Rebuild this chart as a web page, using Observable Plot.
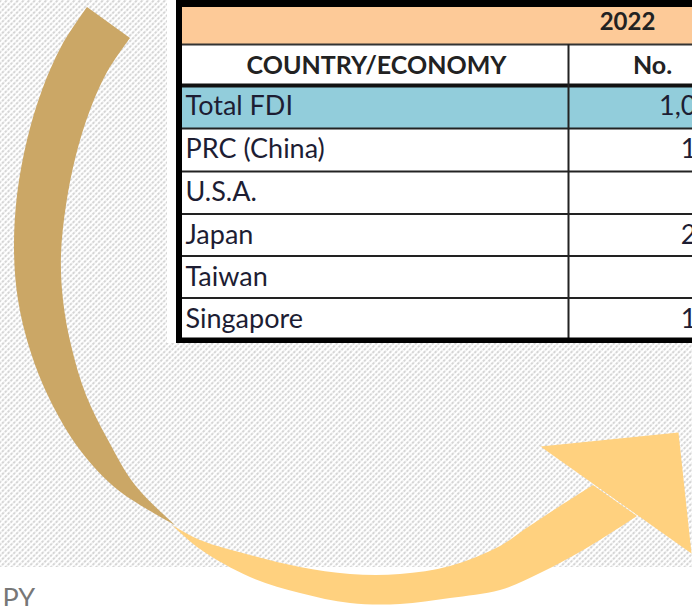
<!DOCTYPE html>
<html>
<head>
<meta charset="utf-8">
<script src="https://cdn.jsdelivr.net/npm/d3@7"></script>
<script src="https://cdn.jsdelivr.net/npm/@observablehq/plot@0.6"></script>
<style>
  html, body { margin: 0; padding: 0; background: #fff; overflow: hidden; }
  #chart svg { display: block; }
</style>
</head>
<body>
<div id="chart"></div>
<script>
// ---- data ----
const yearLabel = "2022";
const columnHeaders = ["COUNTRY/ECONOMY", "No."];
const countries = ["Total FDI", "PRC (China)", "U.S.A.", "Japan", "Taiwan", "Singapore"];
const valuesShown = ["1,0", "1", "", "2", "", "1"];   // only the visible part of the cut-off column
const footerText = "PY";

// arrow: tan upper limb (outer edge / inner edge)
const tanOuterX = [87, 62, 42, 27, 17, 14, 18, 30, 50, 80, 118, 175];
const tanOuterY = [7, 45, 90, 140, 195, 250, 300, 350, 400, 450, 490, 525];
const tanInnerX = [130, 107, 90, 76, 66, 61, 63, 71, 86, 108, 135, 175];
const tanInnerY = [38, 72, 110, 155, 205, 255, 300, 345, 395, 440, 485, 525];
// arrow: orange lower limb (upper edge / lower edge)
const orangeTopX = [172, 200, 250, 300, 350, 400, 450, 500, 525, 560, 593];
const orangeTopY = [525, 540, 555, 567, 574, 574, 566, 546, 529, 506, 485];
const orangeBotX = [172, 200, 250, 300, 350, 400, 450, 500, 540, 590, 637];
const orangeBotY = [525, 549, 577, 593, 603, 604, 598, 590, 573, 546, 516];
// arrow head
const headX = [540, 678, 691];
const headY = [446, 432, 553];

// ---- layout ----
const W = 692, H = 606;
const hatchBottom = 567;
const tableLeft = 182, colDivider = 568;
const headerTop = 7, headerBottom = 44, colHeadBottom = 85;
const rowEdges = [85, 128, 171, 213.5, 255.5, 297.5, 340];

const tableRows = countries.map((c, i) => ({
  country: c, value: valuesShown[i], top: rowEdges[i], bottom: rowEdges[i + 1], total: i === 0
}));
const tanLimb = tanOuterX.map((x, i) => ({x1: x, y1: tanOuterY[i], x2: tanInnerX[i], y2: tanInnerY[i]}));
const orangeLimb = orangeTopX.map((x, i) => ({x1: x, y1: orangeTopY[i], x2: orangeBotX[i], y2: orangeBotY[i]}));
const head = headX.map((x, i) => ({x, y: headY[i]}));

const font = "Lato, 'Open Sans', sans-serif";
const textColor = "#1d1d33";

const svg = Plot.plot({
  width: W, height: H, margin: 0,
  x: {domain: [0, W], range: [0, W], axis: null},
  y: {domain: [0, H], range: [0, H], axis: null},
  style: {background: "#fff"},
  marks: [
    // hatched background
    Plot.rect([0], {x1: 0, x2: W, y1: 0, y2: hatchBottom, fill: "url(#hatch)"}),
    // table paper
    Plot.rect([0], {x1: 167, x2: W, y1: 0, y2: 343, fill: "#fff"}),
    Plot.rect([0], {x1: tableLeft, x2: W, y1: headerTop, y2: headerBottom, fill: "#FDCA98"}),
    Plot.rect(tableRows.filter(d => d.total), {x1: tableLeft, x2: W, y1: "top", y2: "bottom", fill: "#92CDDB"}),
    // grid lines
    Plot.ruleY(rowEdges.slice(1, -1), {x1: tableLeft, x2: W, stroke: "#222", strokeWidth: 2}),
    Plot.ruleY([headerBottom], {x1: tableLeft, x2: W, stroke: "#333", strokeWidth: 1.8}),
    Plot.ruleY([colHeadBottom], {x1: tableLeft, x2: W, stroke: "#111", strokeWidth: 4}),
    Plot.ruleX([colDivider], {y1: headerBottom, y2: 340, stroke: "#222", strokeWidth: 2}),
    // thick outer border
    Plot.rect([0], {x1: 176, x2: W, y1: 0, y2: headerTop, fill: "#000"}),
    Plot.rect([0], {x1: 176, x2: tableLeft, y1: 0, y2: 343, fill: "#000"}),
    Plot.rect([0], {x1: 176, x2: W, y1: 337.5, y2: 343, fill: "#000"}),
    // texts
    Plot.text([yearLabel], {x: 627, y: 21.5, text: d => d, fontFamily: font, fontWeight: 700, fontSize: 24, fill: "#222", lineAnchor: "middle"}),
    Plot.text(columnHeaders, {x: (d, i) => [376, 652][i], y: 65.5, text: d => d, fontFamily: font, fontWeight: 700, fontSize: 25, fill: "#222", lineAnchor: "middle"}),
    Plot.text(tableRows, {x: 185, y: d => d.top + 21, text: "country", textAnchor: "start", fontFamily: font, fontWeight: d => d.total ? 700 : 400, fontSize: 27, fill: textColor, lineAnchor: "middle"}),
    Plot.text(tableRows, {x: 696, y: d => d.top + 21, text: "value", textAnchor: "end", fontFamily: font, fontWeight: d => d.total ? 700 : 400, fontSize: 27, fill: textColor, lineAnchor: "middle"}),
    // arrow
    Plot.area(tanLimb, {x1: "x1", y1: "y1", x2: "x2", y2: "y2", fill: "#CBA766", curve: "catmull-rom"}),
    Plot.area(orangeLimb, {x1: "x1", y1: "y1", x2: "x2", y2: "y2", fill: "#FFD17F", curve: "catmull-rom"}),
    Plot.line(head, {x: "x", y: "y", fill: "#FFD17F", stroke: "none"}),
    // footer fragment
    Plot.text([footerText], {x: 2, y: 599, text: d => d, textAnchor: "start", fontFamily: font, fontSize: 27, fill: "#777", lineAnchor: "middle"})
  ]
});

const defs = d3.select(svg).insert("defs", ":first-child");
const pat = defs.append("pattern")
  .attr("id", "hatch")
  .attr("patternUnits", "userSpaceOnUse")
  .attr("width", 4).attr("height", 4)
  .attr("patternTransform", "rotate(45)");
pat.append("rect").attr("width", 4).attr("height", 4).attr("fill", "#fff");
pat.append("line").attr("x1", 1).attr("y1", 0).attr("x2", 1).attr("y2", 4)
  .attr("stroke", "#bfbfbf").attr("stroke-width", 1.3).attr("stroke-dasharray", "2.2,1.2");

document.getElementById("chart").appendChild(svg);
</script>
</body>
</html>
